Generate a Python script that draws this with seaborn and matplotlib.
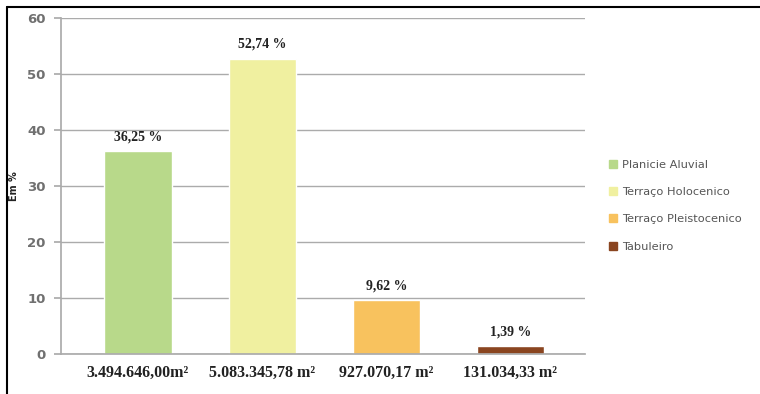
import matplotlib
matplotlib.use("Agg")
import matplotlib.pyplot as plt
import seaborn as sns
import pandas as pd
from matplotlib.lines import Line2D

categories = ["Planicie Aluvial", "Terraço Holocenico", "Terraço Pleistocenico", "Tabuleiro"]
values = [36.25, 52.74, 9.62, 1.39]
value_labels = ["36,25 %", "52,74 %", "9,62 %", "1,39 %"]
area_labels = ["3.494.646,00m²", "5.083.345,78 m²", "927.070,17 m²", "131.034,33 m²"]
colors = ["#B8D98A", "#F0F0A0", "#F8C25E", "#8A4520"]

sns.set_theme(style="white")
plt.rcParams["font.family"] = ["DejaVu Sans"]

fig = plt.figure(figsize=(7.6, 3.94), dpi=100)
ax = fig.add_axes([61/760, 1-354/394, (585-61)/760, (354-18)/394])

df = pd.DataFrame({"cat": categories, "val": values})
sns.barplot(data=df, x="cat", y="val", hue="cat", palette=colors, width=0.54,
            dodge=False, legend=False, ax=ax, saturation=1)

ax.set_xlim(-0.62, 3.6)
ax.set_ylim(0, 60)
ax.set_yticks(range(0, 61, 10))
ax.yaxis.grid(True, color="#ababab", linewidth=1.0)
ax.set_axisbelow(True)
for s in ["top", "right"]:
    ax.spines[s].set_visible(False)
ax.spines["left"].set_color("#ababab")
ax.spines["bottom"].set_color("#ababab")
ax.tick_params(axis="y", length=5, color="#ababab", labelsize=9.5, labelcolor="#707070", pad=6, left=True)
for t in ax.get_yticklabels():
    t.set_fontweight("bold")
ax.set_xticks(range(len(categories)))
ax.set_xticklabels(area_labels, fontfamily="Liberation Serif", fontweight="bold", fontsize=11.5, color="#222222")
ax.tick_params(axis="x", length=0, pad=8)
ax.set_xlabel("")
ax.set_ylabel("")
fig.text(14/760, 1-186/394, "Em %", rotation=90, ha="center", va="center",
         fontsize=7, fontweight="bold", color="#222222")

for i, (v, lab) in enumerate(zip(values, value_labels)):
    ax.text(i, v + 1.4, lab, ha="center", va="bottom", fontfamily="Liberation Serif",
            fontweight="bold", fontsize=10, color="#222222")

handles = [Line2D([0], [0], marker="s", linestyle="", markersize=6, markerfacecolor=c,
                  markeredgecolor=c) for c in colors]
fig.legend(handles, categories, loc="upper left", bbox_to_anchor=(598/760, 1-150/394),
           frameon=False, fontsize=8.2, labelspacing=1.5, handletextpad=0.4,
           handlelength=0.8, labelcolor="#555555")

# outer frame lines (left and top)
fig.add_artist(Line2D([7/760, 7/760], [0, 1-7/394], color="black", linewidth=1.5, transform=fig.transFigure))
fig.add_artist(Line2D([7/760, 1], [1-7/394, 1-7/394], color="black", linewidth=1.5, transform=fig.transFigure))

fig.savefig("out.png", dpi=100, facecolor="white")
